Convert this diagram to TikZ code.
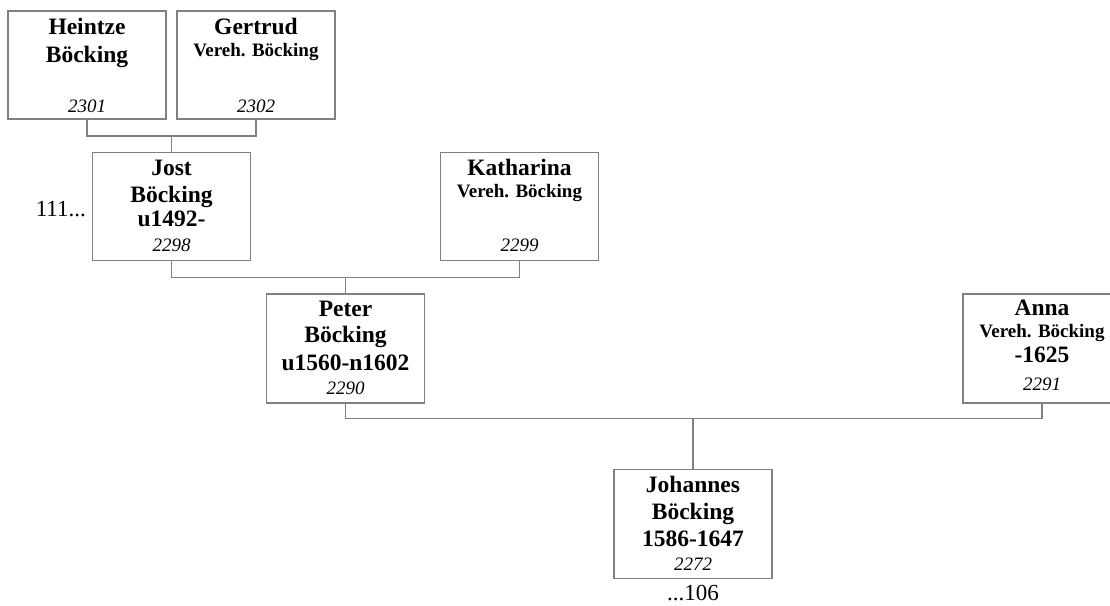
\documentclass[tikz,border=0pt]{standalone}
\usepackage{fontspec}
\setmainfont{Liberation Serif}
\usetikzlibrary{positioning}

\definecolor{linegray}{RGB}{128,128,128}

\begin{document}
\begin{tikzpicture}[
    x=1pt, y=-1pt,
    % Box styles
    personbox/.style={draw=linegray, line width=1.2pt, minimum width=158pt, minimum height=108pt, inner sep=0pt},
    nametext/.style={align=center, inner sep=0pt, anchor=base, font=\fontsize{23.5}{26.5}\selectfont\bfseries},
    numtext/.style={inner sep=0pt, anchor=base, font=\fontsize{19}{22}\selectfont\itshape},
    moretext/.style={inner sep=0pt, font=\fontsize{23}{26}\selectfont},
    % Connector style
    famline/.style={draw=linegray, line width=1.2pt}
]
    \useasboundingbox (0,0) rectangle (1110,605);

    % --- BOXES ---
    \node[personbox] (heintze) at (87,65) {};
    \node[personbox] (gertrud) at (256,65) {};
    \node[personbox] (jost) at (171.5,206.5) {};
    \node[personbox] (katharina) at (519.5,206.5) {};
    \node[personbox, minimum height=109pt] (peter) at (345.5,348.5) {};
    \node[personbox, minimum height=109pt] (anna) at (1042,348.5) {};
    \node[personbox, minimum height=109pt] (johannes) at (693,524) {};

    % Names (base = last line)
    \node[nametext] (heintze-n) at ([yshift=-52pt]heintze.north) {Heintze\\[1pt]Böcking};
    \node[nametext] (gertrud-n) at ([yshift=-46pt]gertrud.north) {Gertrud\\[-4.5pt]{\fontsize{19}{22}\selectfont Vereh. Böcking}};
    \node[nametext] (jost-n) at ([yshift=-75pt]jost.north) {Jost\\Böcking\\[-2pt]u1492-};
    \node[nametext] (katharina-n) at ([yshift=-46pt]katharina.north) {Katharina\\[-4.5pt]{\fontsize{19}{22}\selectfont Vereh. Böcking}};
    \node[nametext] (peter-n) at ([yshift=-77pt]peter.north) {Peter\\Böcking\\[1pt]u1560-n1602};
    \node[nametext] (anna-n) at ([yshift=-69pt]anna.north) {Anna\\[-4.5pt]{\fontsize{19}{22}\selectfont Vereh. Böcking}\\[-2pt]-1625};
    \node[nametext] (johannes-n) at ([yshift=-78pt]johannes.north) {Johannes\\Böcking\\[1pt]1586-1647};

    % Numbers
    \node[numtext] (heintze-k) at ([yshift=7pt]heintze.south) {2301};
    \node[numtext] (gertrud-k) at ([yshift=7pt]gertrud.south) {2302};
    \node[numtext] (jost-k) at ([yshift=10pt]jost.south) {2298};
    \node[numtext] (katharina-k) at ([yshift=10pt]katharina.south) {2299};
    \node[numtext] (peter-k) at ([yshift=9pt]peter.south) {2290};
    \node[numtext] (anna-k) at ([yshift=13pt]anna.south) {2291};
    \node[numtext] (johannes-k) at ([yshift=9pt]johannes.south) {2272};

    % Continuations
    \node[moretext, anchor=base east] (up) at (86,216) {111...};
    \node[moretext, anchor=base] (down) at ([yshift=-21pt]johannes.south) {...106};

    % --- CONNECTORS ---
    \coordinate (c1) at (171.5,136);
    \coordinate (c2) at (345.5,277.5);
    \coordinate (c3) at (693,418.5);
    \draw[famline] (heintze.south) |- (c1) -| (gertrud.south);
    \draw[famline] (c1) -- (jost.north);
    \draw[famline] (jost.south) |- (c2) -| (katharina.south);
    \draw[famline] (c2) -- (peter.north);
    \draw[famline] (peter.south) |- (c3) -| (anna.south);
    \draw[famline] (c3) -- (johannes.north);

\end{tikzpicture}
\end{document}
